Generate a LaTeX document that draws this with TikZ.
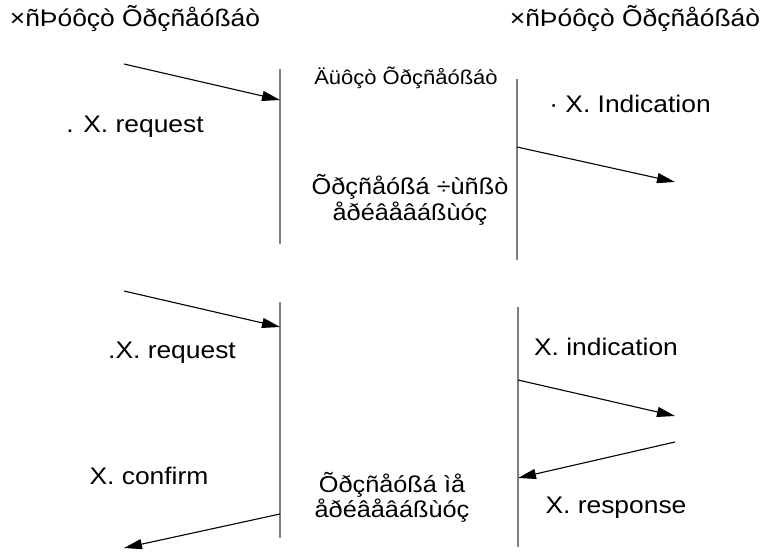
\documentclass[tikz,border=0pt]{standalone}
\usepackage{fontspec}
\setmainfont[FakeStretch=1.1]{Liberation Sans}
\usetikzlibrary{arrows.meta}
\begin{document}
\begin{tikzpicture}[x=1pt,y=-1pt,
  lifeline/.style={draw=black!50,line width=1.4pt},
  msg/.style={draw=black,line width=1.1pt,-{Triangle[length=18pt,width=10pt]}},
  lbl/.style={inner sep=0pt,anchor=base,font=\fontsize{24}{28}\selectfont},
  title/.style={inner sep=0pt,anchor=base,font=\fontsize{24}{28}\selectfont},
  midtitle/.style={inner sep=0pt,anchor=base,font=\fontsize{20}{24}\selectfont},
  midnote/.style={inner sep=0pt,anchor=base,align=center,font=\fontsize{23}{25}\selectfont}]
\useasboundingbox (0,0) rectangle (760,556);
% titles
\node[title] (tl) at (135,27) {×ñÞóôçò Õðçñåóßáò};
\node[title] (tr) at (635,27) {×ñÞóôçò Õðçñåóßáò};
\node[midtitle] (tm) at (406,85) {Äüôçò Õðçñåóßáò};
% lifelines
\coordinate (L1t) at (280,69);  \coordinate (L1b) at (280,244);
\coordinate (R1t) at (517,79);  \coordinate (R1b) at (517,260);
\coordinate (L2t) at (280,302); \coordinate (L2b) at (280,538);
\coordinate (R2t) at (518,307); \coordinate (R2b) at (518,547);
\draw[lifeline] (L1t) -- (L1b);
\draw[lifeline] (R1t) -- (R1b);
\draw[lifeline] (L2t) -- (L2b);
\draw[lifeline] (R2t) -- (R2b);
% message end points
\coordinate (a1s) at (124,64);  \coordinate (a1e) at (280,100);
\coordinate (a2s) at (517,147); \coordinate (a2e) at (675,182);
\coordinate (a3s) at (124,291); \coordinate (a3e) at (280,327);
\coordinate (a4s) at (280,514); \coordinate (a4e) at (124,548);
\coordinate (a5s) at (518,380); \coordinate (a5e) at (675,416);
\coordinate (a6s) at (675,442); \coordinate (a6e) at (518,478);
\draw[msg] (a1s) -- (a1e);
\draw[msg] (a2s) -- (a2e);
\draw[msg] (a3s) -- (a3e);
\draw[msg] (a4s) -- (a4e);
\draw[msg] (a5s) -- (a5e);
\draw[msg] (a6s) -- (a6e);
% labels
\node[lbl] (l1) at (135,133) {. X. request};
\node[lbl] (l2) at (630,113) {· X. Indication};
\node[lbl] (l3) at (172,358) {.X. request};
\node[lbl] (l4) at (149,484) {X. confirm};
\node[lbl] (l5) at (606,355) {X. indication};
\node[lbl] (l6) at (616,513) {X. response};
% middle notes
\node[midnote] (n1) at (410,220) {Õðçñåóßá ÷ùñßò\\åðéâåâáßùóç};
\node[midnote] (n2) at (392,517) {Õðçñåóßá ìå\\åðéâåâáßùóç};
\end{tikzpicture}
\end{document}
